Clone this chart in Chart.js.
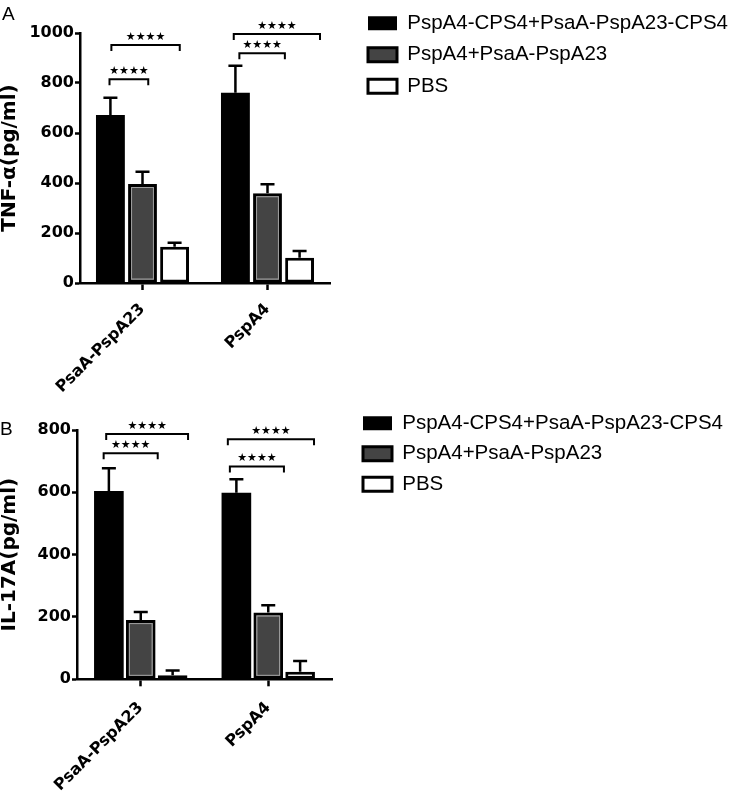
<!DOCTYPE html>
<html><head><meta charset="utf-8">
<script src="https://cdn.jsdelivr.net/npm/chart.js@4"></script>
<style>
html,body{margin:0;padding:0;background:#fff;}
#wrap{position:relative;width:733px;height:791px;overflow:hidden;background:#fff;}
canvas{position:absolute;left:0;}
.lab{position:absolute;font-family:'Liberation Sans',Arial,sans-serif;font-size:19px;line-height:19px;color:#000;}
</style></head><body>
<div id="wrap">
<canvas id="cA" width="733" height="400" style="top:0px"></canvas>
<canvas id="cB" width="733" height="391" style="top:400px"></canvas>
<div class="lab" style="left:2px;top:4px">A</div>
<div class="lab" style="left:0px;top:419px">B</div>
</div>
<script>
// ---- data ----
const categories = ['PsaA-PspA23', 'PspA4'];
const seriesNames = ['PspA4-CPS4+PsaA-PspA23-CPS4', 'PspA4+PsaA-PspA23', 'PBS'];

const tnfCombined = [672, 761];
const tnfMixed = [396, 359];
const tnfPBS = [145, 101];
const tnfCombinedErr = [69, 108];
const tnfMixedErr = [49, 36];
const tnfPBSErr = [16, 27];
const tnfTicks = [0, 200, 400, 600, 800, 1000];

const il17Combined = [604, 599];
const il17Mixed = [190, 214];
const il17PBS = [13, 24];
const il17CombinedErr = [73, 43];
const il17MixedErr = [26, 24];
const il17PBSErr = [15, 35];
const il17Ticks = [0, 200, 400, 600, 800];

// significance brackets: category index, start / end offset (category units), level (data units)
const tnfSig = [
  [0, -0.264, 0.046, 815, '****'],
  [0, -0.249, 0.298, 952, '****'],
  [1, -0.225, 0.139, 919, '****'],
  [1, -0.270, 0.420, 996, '****']
];
const il17Sig = [
  [0, -0.291, 0.133, 725, '****'],
  [0, -0.271, 0.371, 787, '****'],
  [1, -0.301, 0.123, 683, '****'],
  [1, -0.317, 0.359, 770, '****']
];

// ---- rendering ----
Chart.defaults.color = '#000';
Chart.defaults.font.family = "'DejaVu Sans', sans-serif";

const decor = {
  id: 'decor',
  afterDatasetsDraw(chart) {
    const ctx = chart.ctx;
    const ys = chart.scales.y;
    ctx.save();
    const m = chart.getDatasetMeta(1);
    ctx.strokeStyle = '#a0a0a0';
    ctx.lineWidth = 1;
    m.data.forEach(el => {
      const w = el.width;
      ctx.strokeRect(el.x - w / 2 + 3.5, el.y + 3.5, w - 7, el.base - el.y - 7);
    });
    ctx.strokeStyle = '#000';
    ctx.lineWidth = 2.5;
    chart.data.datasets.forEach((ds, d) => {
      const meta = chart.getDatasetMeta(d);
      meta.data.forEach((el, i) => {
        const cap = ys.getPixelForValue(ds.data[i] + ds.errors[i]);
        ctx.beginPath();
        ctx.moveTo(el.x, el.y);
        ctx.lineTo(el.x, cap);
        ctx.moveTo(el.x - 7, cap);
        ctx.lineTo(el.x + 7, cap);
        ctx.stroke();
      });
    });
    ctx.restore();
  },
  afterDraw(chart, args, opts) {
    const ctx = chart.ctx;
    const xs = chart.scales.x, ys = chart.scales.y;
    ctx.save();
    ctx.strokeStyle = '#000';
    ctx.fillStyle = '#000';
    ctx.lineWidth = 2;
    ctx.font = "11px 'DejaVu Sans'";
    ctx.textAlign = 'center';
    ctx.textBaseline = 'middle';
    (opts.sig || []).forEach(b => {
      const x0 = xs.getPixelForValue(b[0] + b[1]);
      const x1 = xs.getPixelForValue(b[0] + b[2]);
      const y = ys.getPixelForValue(b[3]);
      ctx.beginPath();
      ctx.moveTo(x0, y + 6);
      ctx.lineTo(x0, y);
      ctx.lineTo(x1, y);
      ctx.lineTo(x1, y + 6);
      ctx.stroke();
      const stars = b[4].replace(/\*/g, '\u2605');
      ctx.fillText(stars, (x0 + x1) / 2, y - 8);
    });
    ctx.restore();
  }
};

function makeChart(id, vals, errs, ticks, maxV, title, sig, cfg) {
  const colors = ['#000000', '#444444', '#ffffff'];
  const bw = [0, 3, 3];
  return new Chart(document.getElementById(id), {
    type: 'bar',
    data: {
      labels: categories,
      datasets: seriesNames.map((n, k) => ({
        label: n,
        data: vals[k],
        errors: errs[k],
        backgroundColor: colors[k],
        borderColor: '#000',
        borderWidth: bw[k],
        borderSkipped: false,
        categoryPercentage: cfg.catPct,
        barPercentage: cfg.barPct
      }))
    },
    options: {
      responsive: false,
      animation: false,
      layout: { padding: { top: cfg.padTop, right: cfg.padRight, left: 0, bottom: 0 } },
      plugins: {
        tooltip: { enabled: false },
        title: { display: true, text: '', font: { size: 1, lineHeight: 1 }, padding: { top: cfg.chartTop - cfg.padTop - 1, bottom: 0 } },
        legend: {
          position: 'right', align: 'start', maxWidth: 420,
          labels: {
            boxWidth: 29, boxHeight: 14, padding: cfg.legPad, color: '#000',
            font: { family: "'Liberation Sans', Arial, sans-serif", size: 20.5 }
          }
        },
        decor: { sig: sig }
      },
      scales: {
        x: {
          ticks: { font: { family: "'DejaVu Sans', sans-serif", weight: 'bold', size: 16 }, color: '#000', maxRotation: 45, minRotation: 45, autoSkip: false, padding: cfg.xPad },
          grid: { display: true, offset: false, drawOnChartArea: false, drawTicks: true, tickLength: 7, tickWidth: 2.5, tickColor: '#000' },
          border: { display: true, color: '#000', width: 2.5 },
          afterFit(s) { s.height = cfg.xH; }
        },
        y: {
          min: 0, max: maxV,
          afterBuildTicks(s) { s.ticks = ticks.map(v => ({ value: v })); },
          ticks: { font: { family: "'DejaVu Sans', sans-serif", weight: 'bold', size: 16 }, color: '#000', padding: 1, callback: v => String(v) },
          grid: { display: true, drawOnChartArea: false, drawTicks: true, tickLength: 5, tickWidth: 2.5, tickColor: '#000' },
          border: { display: true, color: '#000', width: 2.5 },
          title: { display: true, text: title, color: '#000', font: { family: "'DejaVu Sans', sans-serif", weight: 'bold', size: 20, lineHeight: 1 }, padding: { top: 0, bottom: 0 } },
          afterFit(s) { s.width = cfg.left; }
        },
        yR: {
          type: 'linear', position: 'right', display: true,
          ticks: { display: false },
          grid: { display: false },
          border: { display: false },
          afterFit(s) {
            const lg = s.chart.legend;
            const avail = s.chart.width - cfg.padRight - (lg ? lg.width : 0);
            s.width = Math.max(0, avail - cfg.right);
          }
        }
      }
    },
    plugins: [decor]
  });
}

makeChart('cA',
  [tnfCombined, tnfMixed, tnfPBS],
  [tnfCombinedErr, tnfMixedErr, tnfPBSErr],
  tnfTicks, 1000, 'TNF-\u03b1(pg/ml)', tnfSig,
  { catPct: 0.77, barPct: 0.9, padTop: 2, padRight: -5, chartTop: 33, legPad: 11, xH: 117, xPad: 10, left: 80, right: 330 });

makeChart('cB',
  [il17Combined, il17Mixed, il17PBS],
  [il17CombinedErr, il17MixedErr, il17PBSErr],
  il17Ticks, 800, 'IL-17A(pg/ml)', il17Sig,
  { catPct: 0.75, barPct: 0.93, padTop: 3, padRight: 0, chartTop: 30, legPad: 10, xH: 111.7, xPad: 12, left: 77, right: 332 });
</script>
</body></html>
